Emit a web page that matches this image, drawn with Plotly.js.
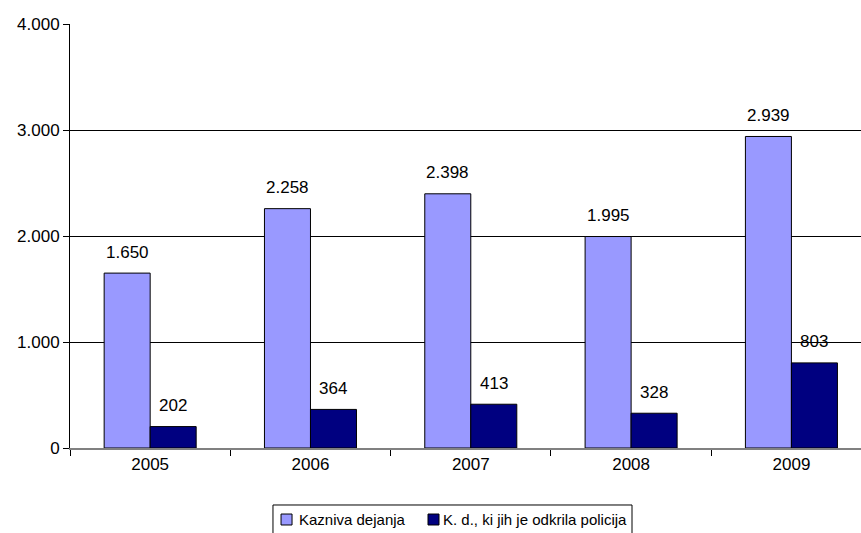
<!DOCTYPE html>
<html><head><meta charset="utf-8">
<script src="https://cdn.plot.ly/plotly-3.0.1.min.js"></script>
<style>html,body{margin:0;padding:0;background:#fff;}#chart{width:861px;height:533px;}</style>
</head><body><div id="chart"></div>
<script>
const years = ['2005','2006','2007','2008','2009'];
const kaznivaDejanja = [1650, 2258, 2398, 1995, 2939];
const odkrilaPolicija = [202, 364, 413, 328, 803];
const seriesNames = ['Kazniva dejanja', 'K. d., ki jih je odkrila policija'];
const seriesColors = ['#9999FF', '#000080'];
const yTicks = [0, 1000, 2000, 3000, 4000];
const yTickLabels = ['0', '1.000', '2.000', '3.000', '4.000'];

function fmt(v){ return v.toLocaleString('de-DE'); }

const font = {family: 'Liberation Sans, Arial, sans-serif', size: 17, color: '#000'};
const legendFont = {family: 'Liberation Sans, Arial, sans-serif', size: 15, color: '#000'};

const traces = [
  {type:'bar', name: seriesNames[0], x: years, y: kaznivaDejanja,
   marker:{color: seriesColors[0], line:{color:'#000', width:1}}, hoverinfo:'none'},
  {type:'bar', name: seriesNames[1], x: years, y: odkrilaPolicija,
   marker:{color: seriesColors[1], line:{color:'#000', width:1}}, hoverinfo:'none'}
];

const annotations = [];
years.forEach((yr, i) => {
  annotations.push({x: i, y: kaznivaDejanja[i], xref:'x', yref:'y', text: fmt(kaznivaDejanja[i]),
    showarrow:false, xshift:-23, yshift:21, font: font});
  annotations.push({x: i, y: odkrilaPolicija[i], xref:'x', yref:'y', text: fmt(odkrilaPolicija[i]),
    showarrow:false, xshift:23, yshift:21, font: font});
});

// Legend drawn as box + swatches + labels (paper coordinates)
const shapes = [
  {type:'rect', xref:'paper', yref:'paper', x0:0.2566, x1:0.7105, y0:-0.1344, y1:-0.2288,
   line:{color:'#000', width:1}, fillcolor:'rgba(0,0,0,0)', layer:'above'}
];
const swatchX = [0.2668, 0.4526];
const labelX = [0.2870, 0.4690];
seriesNames.forEach((name, k) => {
  shapes.push({type:'rect', xref:'paper', yref:'paper', x0: swatchX[k], x1: swatchX[k] + 0.0139,
    y0:-0.1557, y1:-0.1816, line:{color:'#000', width:1}, fillcolor: seriesColors[k]});
  annotations.push({xref:'paper', yref:'paper', x: labelX[k], y: -0.1698, xanchor:'left', yanchor:'middle',
    text: name, showarrow:false, font: legendFont});
});

const layout = {
  width: 861, height: 533,
  margin: {l: 70, r: 0, t: 24, b: 85, autoexpand: false},
  paper_bgcolor: '#fff', plot_bgcolor: '#fff',
  font: font,
  barmode: 'group', bargap: 0.426, bargroupgap: 0,
  showlegend: false,
  xaxis: {type:'category', range:[-0.5, 4.434], showgrid:false, zeroline:false,
    showline:true, linecolor:'#808080', linewidth:2,
    ticks:'outside', ticklen:6, tickcolor:'#000', tickwidth:1, tickson:'boundaries',
    tickfont: font, fixedrange:true},
  yaxis: {range:[0, 4000], tickvals: yTicks, ticktext: yTickLabels,
    showgrid:true, gridcolor:'#000', gridwidth:1, zeroline:false,
    showline:true, linecolor:'#000', linewidth:1,
    ticks:'outside', ticklen:6, tickcolor:'#000', tickfont: font, fixedrange:true},
  annotations: annotations,
  shapes: shapes
};

Plotly.newPlot('chart', traces, layout, {displayModeBar:false, staticPlot:true});
</script></body></html>
